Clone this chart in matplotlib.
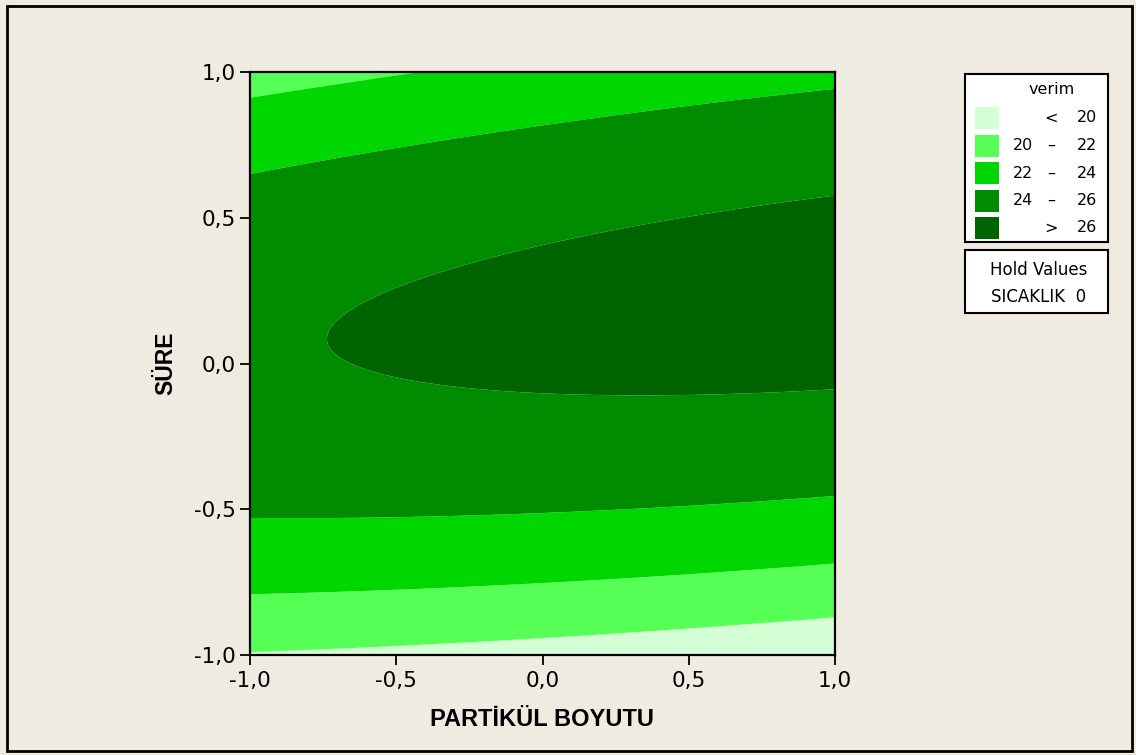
import numpy as np
import matplotlib.pyplot as plt
from matplotlib.patches import Rectangle

# fitted response surface for verim (coded units), SICAKLIK held at 0
# terms: const, x, y, x^2, y^2, x*y   (x = PARTİKÜL BOYUTU, y = SÜRE)
coef_names = ["const", "x", "y", "x2", "y2", "xy"]
coef_values = [26.22, 0.222, 1.611, -0.173, -5.30, 0.975]

levels = [20, 22, 24, 26]
level_colors = ["#d4ffd4", "#55ff55", "#00d700", "#008c00", "#006400"]
legend_left = ["", "20", "22", "24", ""]
legend_mid = ["<", "\u2013", "\u2013", "\u2013", ">"]
legend_right = ["20", "22", "24", "26", "26"]

ticks = [-1.0, -0.5, 0.0, 0.5, 1.0]
tick_labels = ["-1,0", "-0,5", "0,0", "0,5", "1,0"]

BG = "#efebe0"
W, H = 1136, 755

fig = plt.figure(figsize=(W / 100, H / 100), dpi=100, facecolor=BG)
plt.rcParams['font.family'] = ['DejaVu Sans']

ax = fig.add_axes([250 / W, 1 - 655 / H, 585 / W, 583 / H])

c = dict(zip(coef_names, coef_values))
gx = np.linspace(-1, 1, 301)
gy = np.linspace(-1, 1, 301)
X, Y = np.meshgrid(gx, gy)
Z = (c["const"] + c["x"] * X + c["y"] * Y + c["x2"] * X ** 2
     + c["y2"] * Y ** 2 + c["xy"] * X * Y)

bounds = [min(Z.min(), levels[0]) - 1] + levels + [max(Z.max(), levels[-1]) + 1]
ax.contourf(X, Y, Z, levels=bounds, colors=level_colors, antialiased=True)

ax.set_xlim(-1, 1)
ax.set_ylim(-1, 1)
ax.set_xticks(ticks)
ax.set_xticklabels(tick_labels)
ax.set_yticks(ticks)
ax.set_yticklabels(tick_labels)
ax.tick_params(direction="out", length=7.5, width=1.3, labelsize=15.5, pad=3,
               colors="black")
ax.tick_params(axis="x", pad=4)
for s in ax.spines.values():
    s.set_linewidth(1.6)
    s.set_color("black")

ax.set_xlabel("PARTİKÜL BOYUTU", fontsize=17, fontweight="bold",
              family=["Liberation Sans", "DejaVu Sans"], labelpad=12)
ax.set_ylabel("SÜRE", fontsize=16.5, fontweight="bold",
              family=["Liberation Sans", "DejaVu Sans"], labelpad=12)


def px(x, y):
    return x / W, 1 - y / H


# outer frame
fig.patches.append(Rectangle(px(7, 751), 1125 / W, 745 / H, transform=fig.transFigure,
                             fill=False, edgecolor="black", linewidth=2))

# legend box
LFS = 11.5
fig.patches.append(Rectangle(px(965, 242), 143 / W, 168 / H, transform=fig.transFigure,
                             facecolor="white", edgecolor="black", linewidth=1.5))
fig.text(*px(1052, 89), "verim", ha="center", va="center", fontsize=LFS)
row_y = [118, 145.5, 173, 200.5, 228]
for i, col in enumerate(level_colors):
    yc = row_y[i]
    fig.patches.append(Rectangle(px(975, yc + 11), 24 / W, 22 / H,
                                 transform=fig.transFigure, facecolor=col,
                                 edgecolor="none"))
    if legend_left[i]:
        fig.text(*px(1033, yc), legend_left[i], ha="right", va="center", fontsize=LFS)
    fig.text(*px(1051, yc), legend_mid[i], ha="center", va="center", fontsize=LFS)
    fig.text(*px(1097, yc), legend_right[i], ha="right", va="center", fontsize=LFS)

# hold values box
fig.patches.append(Rectangle(px(965, 313), 143 / W, 63 / H, transform=fig.transFigure,
                             facecolor="white", edgecolor="black", linewidth=1.5))
fig.text(*px(1039, 270), "Hold Values", ha="center", va="center", fontsize=12)
fig.text(*px(1039, 297), "SICAKLIK  0", ha="center", va="center", fontsize=12)

fig.savefig("out.png", dpi=100, facecolor=BG)
